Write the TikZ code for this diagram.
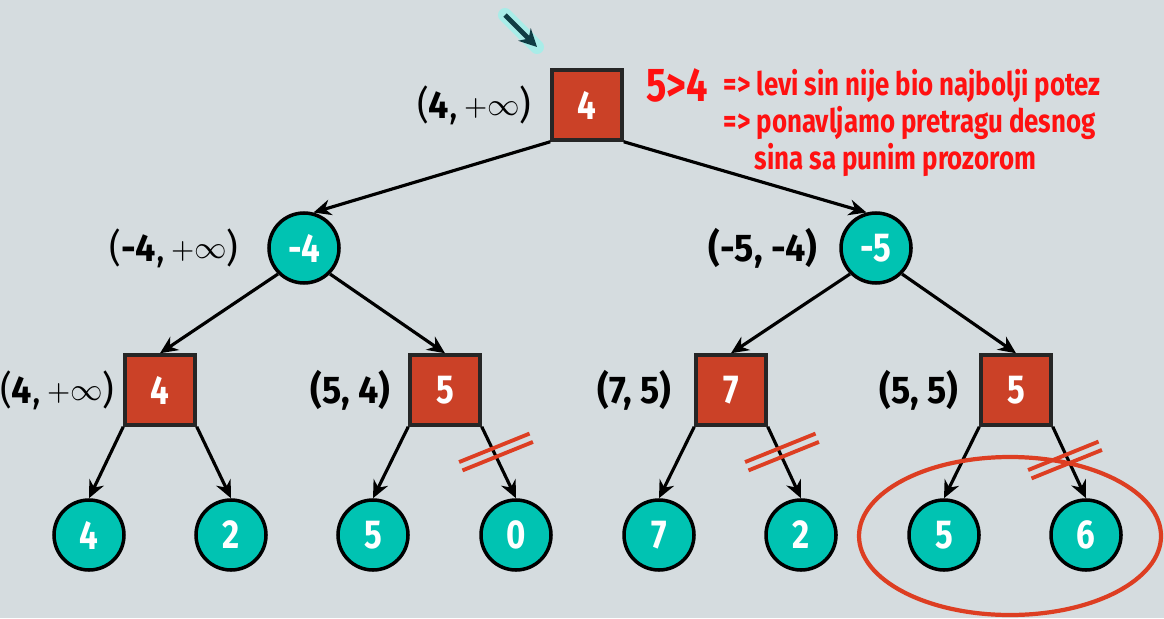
\documentclass[tikz,border=0pt]{standalone}
\usepackage{fontspec}
\setmainfont{Fira Sans}
\newfontfamily\condfont[FakeStretch=0.82]{Fira Sans}
\newfontfamily\lblfont[FakeStretch=0.93]{Fira Sans}
\newfontfamily\notefont[FakeStretch=0.80]{Fira Sans}
\newcommand{\pinf}{\raisebox{0.7pt}{{\fontsize{7.6}{8}\selectfont$+$}{\fontsize{8.7}{10}\selectfont$\infty$}}}
\usetikzlibrary{arrows.meta,positioning,calc}
\definecolor{cBG}{HTML}{D5DCDF}
\definecolor{cSQ}{HTML}{CB4127}
\definecolor{cCR}{HTML}{00C3B2}
\definecolor{cRED}{HTML}{FF1111}
\definecolor{cCUT}{HTML}{DD3E22}
\definecolor{cDARK}{HTML}{0F3C44}
\definecolor{cGLOW}{HTML}{8CF7EE}
\tikzset{
  sq/.style={draw=black!85, line width=1pt, fill=cSQ, minimum size=0.70cm, inner sep=0pt,
    text=white, font=\condfont\fontsize{11.5}{12}\selectfont\bfseries},
  cr/.style={circle, draw=black, line width=1pt, fill=cCR, minimum size=0.70cm, inner sep=0pt,
    text=white, font=\condfont\fontsize{11.5}{12}\selectfont\bfseries},
  lbl/.style={font=\lblfont\fontsize{11}{12}\selectfont, inner sep=0pt},
  edge/.style={-{Stealth[length=5pt,width=4.5pt]}, line width=0.9pt},
  cut/.style={cCUT, line width=1.1pt},
  note/.style={cRED, inner sep=0pt, align=left, font=\notefont\fontsize{9.2}{9.4}\selectfont\bfseries}
}
\begin{document}
\begin{tikzpicture}
\fill[cBG] (0,0) rectangle (11.64,-6.18);
\useasboundingbox (0,0) rectangle (11.64,-6.18);

% tree
\node[sq] (root) at (5.87,-1.05) {4};
\node[cr] (c1) at (3.04,-2.48) {-4};
\node[cr] (c2) at (8.76,-2.48) {-5};
\foreach \n/\x/\v in {s1/1.60/4, s2/4.45/5, s3/7.31/7, s4/10.16/5}
  \node[sq] (\n) at (\x,-3.90) {\v};
\foreach \n/\x/\v in {l1/0.89/4, l2/2.31/2, l3/3.73/5, l4/5.16/0, l5/6.59/7, l6/8.01/2, l7/9.44/5, l8/10.86/6}
  \node[cr] (\n) at (\x,-5.35) {\v};

% windows
\node[lbl, left=0.18cm of root] (wr) {(\textbf{4},\,\pinf)};
\node[lbl, left=0.28cm of c1] (w1) {(\textbf{-4},\,\pinf)};
\node[lbl, left=0.21cm of c2] (w2) {\textbf{(-5, -4)}};
\node[lbl, left=0.08cm of s1] (w3) {(\textbf{4},\,\pinf)};
\node[lbl, left=0.17cm of s2] (w4) {\textbf{(5, 4)}};
\node[lbl, left=0.22cm of s3] (w5) {\textbf{(7, 5)}};
\node[lbl, left=0.20cm of s4] (w6) {\textbf{(5, 5)}};

% edges
\draw[edge] (root.south west) -- (c1.75);
\draw[edge] (root.south east) -- (c2.105);
\draw[edge] (c1.225) -- (s1.north);
\draw[edge] (c1.315) -- (s2.north);
\draw[edge] (c2.225) -- (s3.north);
\draw[edge] (c2.315) -- (s4.north);
\foreach \s/\a/\b in {s1/l1/l2, s2/l3/l4, s3/l5/l6, s4/l7/l8} {
  \draw[edge] (\s.south west) -- (\a.north);
  \draw[edge] (\s.south east) -- (\b.north);
}

% cut-offs
\coordinate (cutA) at (4.96,-4.52);
\coordinate (cutB) at (7.82,-4.52);
\coordinate (cutC) at (10.65,-4.60);
\foreach \m in {cutA,cutB,cutC} {
  \begin{scope}[shift={(\m)}, rotate=22]
    \draw[cut] (-0.38,0.045) -- (0.38,0.045);
    \draw[cut] (-0.38,-0.045) -- (0.38,-0.045);
  \end{scope}
}
\draw[cCUT, line width=1.2pt] (10.10,-5.36) ellipse [x radius=1.51, y radius=0.79];

% pointer
\coordinate (pA) at (5.05,-0.15);
\coordinate (pB) at (5.37,-0.47);
\draw[cGLOW, line width=4pt, opacity=0.6, line cap=round] (pA) -- (pB);
\draw[cDARK, line width=1.4pt, -{Stealth[length=5pt,width=5pt]}] (pA) -- (pB);

% note
\node[cRED, inner sep=0pt, font=\notefont\fontsize{13.5}{14}\selectfont\bfseries] (gt) at (6.77,-0.85) {5>4};
\node[note, anchor=north west] (txt) at (7.23,-0.69)
  {=> levi sin nije bio najbolji potez\\=> ponavljamo pretragu desnog\\\hspace*{0.31cm}sina sa punim prozorom};
\end{tikzpicture}
\end{document}
